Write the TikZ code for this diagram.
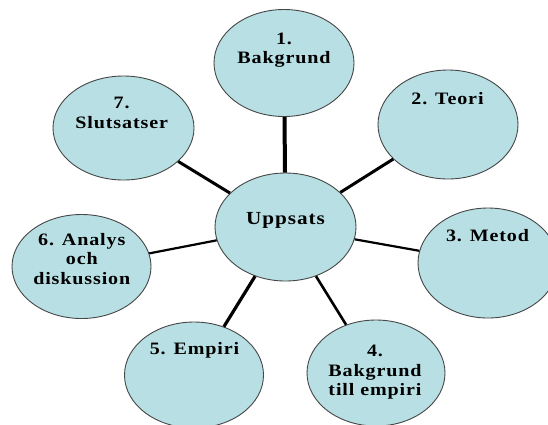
\documentclass[tikz,border=0pt]{standalone}
\usepackage{fontspec}
\setmainfont{Liberation Serif}[FakeStretch=1.15,LetterSpace=5]
\usetikzlibrary{shapes.geometric}
\definecolor{bubblefill}{RGB}{184,224,228}
\definecolor{bubbleline}{RGB}{70,70,70}
\begin{document}
\begin{tikzpicture}[x=1bp,y=-1bp,
  bubble/.style={ellipse,draw=bubbleline,line width=0.9bp,fill=bubblefill,
    inner sep=0pt,minimum width=140bp,minimum height=106bp},
  caption/.style={anchor=north,align=center,inner sep=0pt,
    font=\bfseries\fontsize{17.5}{19.5}\selectfont},
  spoke/.style={draw=black,line width=#1},
]
% canvas
\fill[white] (0,0) rectangle (548,424);
\useasboundingbox (0,0) rectangle (548,424);

% bubbles
\node[bubble,minimum width=141bp,minimum height=108bp] (hub) at (285.5,227) {};
\node[bubble,minimum height=107bp] (n1) at (284,63) {};
\node[bubble,minimum height=109bp] (n2) at (448,124.5) {};
\node[bubble,minimum height=110bp] (n3) at (488,263) {};
\node[bubble,minimum width=138bp] (n4) at (376,373) {};
\node[bubble,minimum width=139bp] (n5) at (194,375) {};
\node[bubble,minimum width=139bp,minimum height=104bp] (n6) at (81.5,266.5) {};
\node[bubble,minimum width=141bp,minimum height=104bp] (n7) at (123.5,128) {};

% spokes from the hub
\draw[spoke=4bp]   (hub) -- (n1);
\draw[spoke=3bp]   (hub) -- (n2);
\draw[spoke=2.2bp] (hub) -- (n3);
\draw[spoke=2.6bp] (hub) -- (n4);
\draw[spoke=3.2bp] (hub) -- (n5);
\draw[spoke=2.2bp] (hub) -- (n6);
\draw[spoke=3bp]   (hub) -- (n7);

% labels
\node[caption,font=\bfseries\fontsize{18.5}{20}\selectfont] (th) at (285.5,212.5) {Uppsats};
\node[caption] (t1) at (284,32.5) {1.\\Bakgrund};
\node[caption] (t2) at (447.5,92.5) {2. Teori};
\node[caption] (t3) at (487.5,229.5) {3. Metod};
\node[caption] (t4) at (375,345) {4.\\Bakgrund\\till empiri};
\node[caption] (t5) at (194.5,342) {5. Empiri};
\node[caption] (t6) at (81.8,233) {6. Analys\\och\\diskussion};
\node[caption] (t7) at (121.7,97) {7.\\Slutsatser};
\end{tikzpicture}
\end{document}
